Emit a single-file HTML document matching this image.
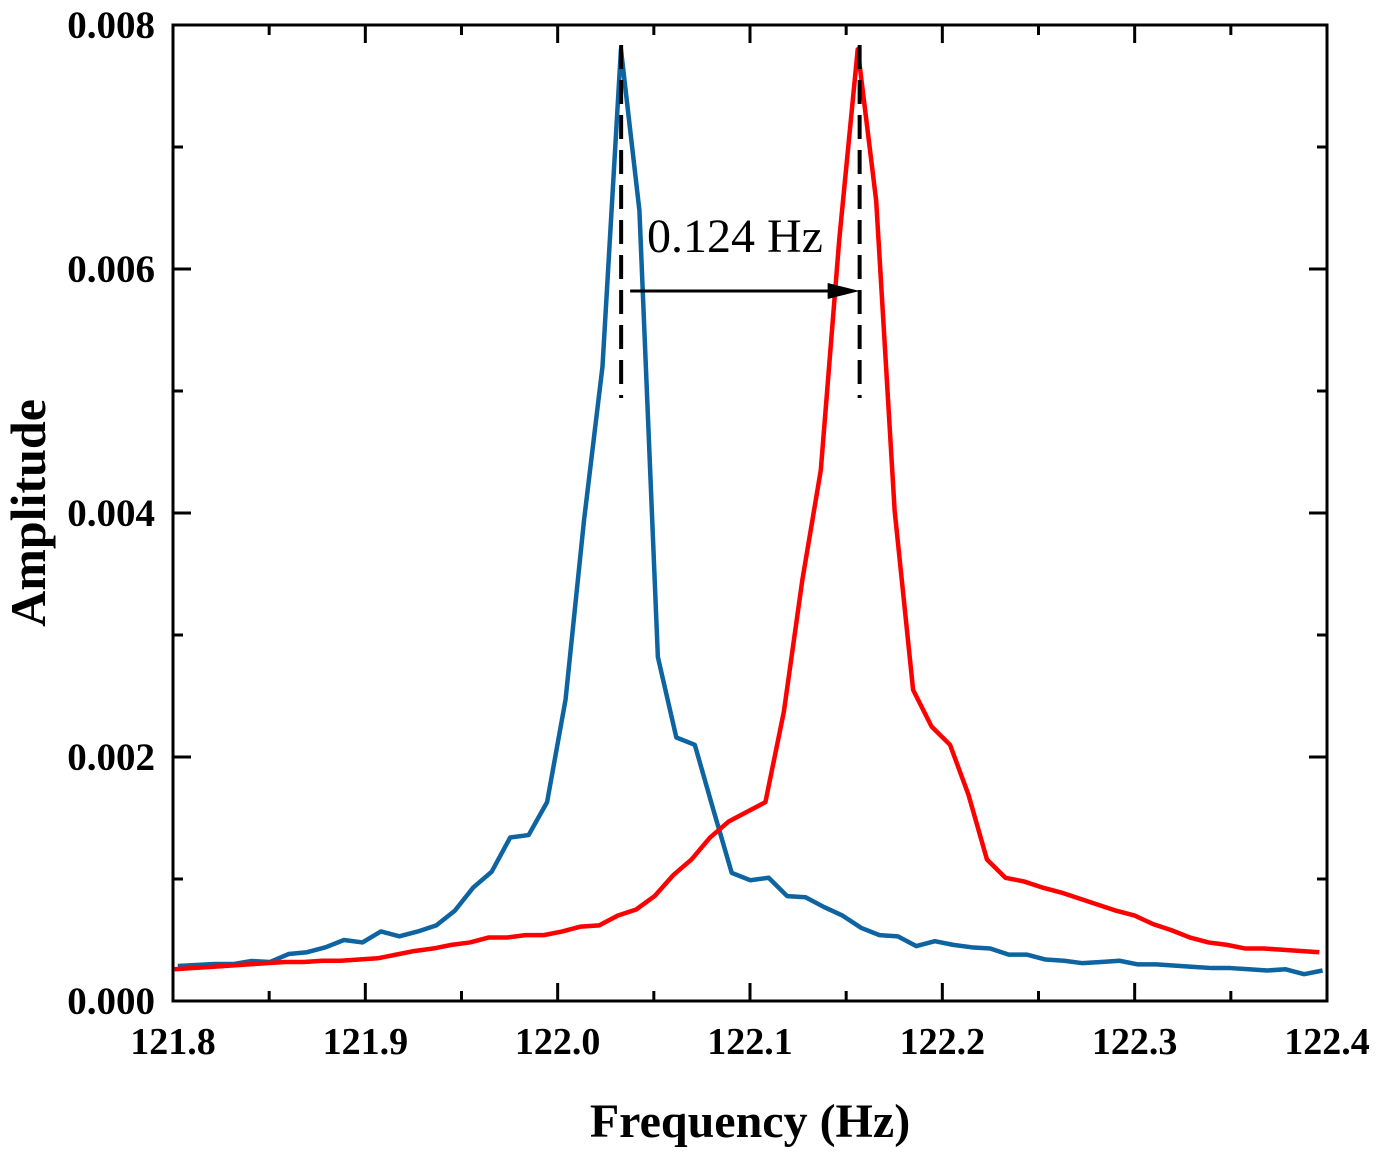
<!DOCTYPE html>
<html><head><meta charset="utf-8"><style>
html,body{margin:0;padding:0;background:#fff;}
svg{display:block;font-family:"Liberation Serif",serif;}
</style></head><body>
<svg id="chart" width="1384" height="1157" viewBox="0 0 1384 1157" xmlns="http://www.w3.org/2000/svg">
<g id="plot"></g>
</svg>
<script>
const xTicks = [121.8, 121.9, 122.0, 122.1, 122.2, 122.3, 122.4];
const xTickLabels = ["121.8","121.9","122.0","122.1","122.2","122.3","122.4"];
const yTicks = [0, 0.002, 0.004, 0.006, 0.008];
const yTickLabels = ["0.000","0.002","0.004","0.006","0.008"];
const blueStart = 121.8025, redStart = 121.8008, freqStep = 0.0096;
const blueAmp = [0.000287,0.000295,0.000303,0.000303,0.000328,0.00032,0.000385,0.0004,0.00044,0.0005,0.00048,0.00057,0.00053,0.00057,0.00062,0.00074,0.00093,0.00106,0.00134,0.00136,0.00163,0.00247,0.00394,0.0052,0.0078,0.00648,0.00282,0.00216,0.0021,0.00157,0.00105,0.00099,0.00101,0.00086,0.00085,0.00077,0.0007,0.0006,0.00054,0.00053,0.00045,0.00049,0.00046,0.00044,0.00043,0.00038,0.00038,0.00034,0.00033,0.00031,0.00032,0.00033,0.0003,0.0003,0.00029,0.00028,0.00027,0.00027,0.00026,0.00025,0.00026,0.00022,0.00025];
const redAmp = [0.00026,0.00027,0.00028,0.00029,0.0003,0.00031,0.00032,0.00032,0.00033,0.00033,0.00034,0.00035,0.00038,0.00041,0.00043,0.00046,0.00048,0.00052,0.00052,0.00054,0.00054,0.00057,0.00061,0.00062,0.0007,0.00075,0.00086,0.00103,0.00116,0.00134,0.00147,0.00155,0.00163,0.00237,0.00345,0.00435,0.00624,0.0078,0.00656,0.00402,0.00255,0.00225,0.0021,0.00169,0.00116,0.00101,0.00098,0.00093,0.00089,0.00084,0.00079,0.00074,0.0007,0.00063,0.00058,0.00052,0.00048,0.00046,0.00043,0.00043,0.00042,0.00041,0.0004];
const peakFreqs = [122.033, 122.157];
const shiftLabel = "0.124 Hz";

const L=173,R=1327,T=25,B=1001;
const X=f=>L+(f-121.8)/0.6*(R-L);
const Y=a=>B-a/0.008*(B-T);
const NS="http://www.w3.org/2000/svg";
const g=document.getElementById('plot');
function mk(tag,attrs,parent){const e=document.createElementNS(NS,tag);for(const k in attrs)e.setAttribute(k,attrs[k]);(parent||g).appendChild(e);return e;}

function series(start,amps,color,name){
  let d=amps.map((a,i)=>{let f=start+i*freqStep;return (i?'L':'M')+Math.min(X(f),R)+','+Y(a);}).join(' ');
  const p=mk('path',{d:d,fill:'none',stroke:color,'stroke-width':4.5,'stroke-linejoin':'round'});
  
  
}
series(blueStart,blueAmp,'#0d64a0','blue-series-line');
series(redStart,redAmp,'#ff0000','red-series-line');

peakFreqs.forEach((f,i)=>{
  const l=mk('line',{x1:X(f),x2:X(f),y1:45,y2:398,stroke:'#000','stroke-width':4,'stroke-dasharray':'24,11'});
  
  
});
const ar=mk('line',{x1:X(peakFreqs[0])+9,x2:X(peakFreqs[1])-28,y1:291,y2:291,stroke:'#000','stroke-width':3});


const ah=mk('polygon',{points:`${X(peakFreqs[1])},291 ${X(peakFreqs[1])-32},283 ${X(peakFreqs[1])-32},299`,fill:'#000'});


const st=mk('text',{x:647,y:252,'font-size':48});
st.textContent=shiftLabel;



const fr=mk('rect',{x:L,y:T,width:R-L,height:B-T,fill:'none',stroke:'#000','stroke-width':3});



xTicks.forEach((v,i)=>{
  const x=X(v);
  mk('line',{x1:x,x2:x,y1:B,y2:B-18,stroke:'#000','stroke-width':3});
  mk('line',{x1:x,x2:x,y1:T,y2:T+18,stroke:'#000','stroke-width':3});
  if(i<xTicks.length-1){const xm=X(v+0.05);
    mk('line',{x1:xm,x2:xm,y1:B,y2:B-10,stroke:'#000','stroke-width':3});
    mk('line',{x1:xm,x2:xm,y1:T,y2:T+10,stroke:'#000','stroke-width':3});}
  const t=mk('text',{x:x,y:1054,'font-size':38,'font-weight':'bold','text-anchor':'middle'});
  t.textContent=xTickLabels[i];
  
  
});
yTicks.forEach((v,i)=>{
  const y=Y(v);
  mk('line',{x1:L,x2:L+18,y1:y,y2:y,stroke:'#000','stroke-width':3});
  mk('line',{x1:R,x2:R-18,y1:y,y2:y,stroke:'#000','stroke-width':3});
  if(i<yTicks.length-1){const ym=Y(v+0.001);
    mk('line',{x1:L,x2:L+10,y1:ym,y2:ym,stroke:'#000','stroke-width':3});
    mk('line',{x1:R,x2:R-10,y1:ym,y2:ym,stroke:'#000','stroke-width':3});}
  const t=mk('text',{x:155,y:y+13,'font-size':39,'font-weight':'bold','text-anchor':'end'});
  t.textContent=yTickLabels[i];
  
  
});
const xt=mk('text',{x:750,y:1137,'font-size':48,'font-weight':'bold','text-anchor':'middle'});
xt.textContent="Frequency (Hz)";


const yt=mk('text',{x:0,y:0,'font-size':50,'font-weight':'bold','text-anchor':'middle',transform:'translate(45,513) rotate(-90)'});
yt.textContent="Amplitude";


</script>
</body></html>
